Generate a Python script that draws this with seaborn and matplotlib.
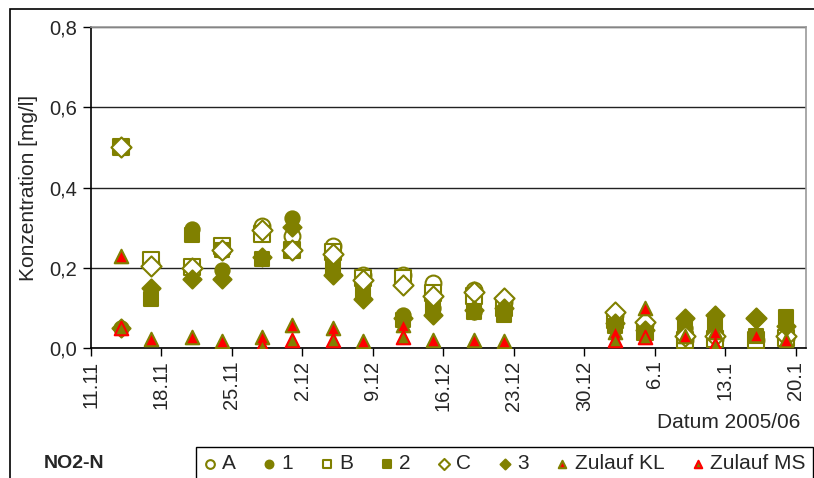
import numpy as np
import pandas as pd
import matplotlib
matplotlib.use("Agg")
import matplotlib.pyplot as plt
from matplotlib.ticker import FuncFormatter
from matplotlib.patches import Rectangle
import seaborn as sns

# -----------------------------
# Data
# -----------------------------
dates = ["2005-11-14", "2005-11-17", "2005-11-21", "2005-11-24", "2005-11-28",
         "2005-12-01", "2005-12-05", "2005-12-08", "2005-12-12", "2005-12-15",
         "2005-12-19", "2005-12-22", "2006-01-02", "2006-01-05", "2006-01-09",
         "2006-01-12", "2006-01-16", "2006-01-19"]

a_vals = [0.50, 0.21, 0.20, 0.245, 0.303, 0.278, 0.253, 0.183, 0.183, 0.162,
          0.145, 0.115, 0.083, 0.06, 0.02, 0.022, 0.02, 0.025]
s1_vals = [0.05, 0.22, 0.297, 0.195, 0.285, 0.325, 0.235, 0.165, 0.083, 0.10,
           0.09, 0.09, 0.06, 0.035, 0.05, 0.04, 0.03, 0.03]
b_vals = [0.50, 0.22, 0.203, 0.253, 0.285, 0.245, 0.24, 0.175, 0.175, 0.137,
          0.13, 0.10, 0.07, 0.04, 0.02, 0.022, 0.02, 0.025]
s2_vals = [0.50, 0.122, 0.282, 0.245, 0.222, 0.245, 0.20, 0.143, 0.07, 0.10,
           0.09, 0.083, 0.055, 0.037, 0.055, 0.057, 0.03, 0.078]
c_vals = [0.50, 0.205, 0.20, 0.245, 0.295, 0.245, 0.235, 0.17, 0.157, 0.13,
          0.14, 0.125, 0.09, 0.065, 0.03, 0.03, 0.075, 0.03]
s3_vals = [0.05, 0.15, 0.172, 0.172, 0.228, 0.302, 0.183, 0.122, 0.075, 0.083,
           0.095, 0.10, 0.062, 0.045, 0.075, 0.083, 0.075, 0.055]
kl_vals = [0.23, 0.022, 0.028, 0.018, 0.028, 0.058, 0.05, 0.018, 0.058, 0.02,
           0.02, 0.018, 0.04, 0.10, 0.03, 0.04, 0.033, 0.02]
ms_vals = [0.05, np.nan, np.nan, np.nan, 0.005, 0.02, 0.02, np.nan, 0.028, np.nan,
           np.nan, np.nan, 0.02, 0.028, np.nan, 0.007, np.nan, np.nan]

x_ticks = pd.date_range("2005-11-11", "2006-01-20", freq="7D")
y_ticks = [0.0, 0.2, 0.4, 0.6, 0.8]

olive = "#808000"
red = "#ff0000"

# series: label, values, marker, face, edge, size
series = [
    ("A", a_vals, "o", "white", olive, 130),
    ("1", s1_vals, "o", olive, olive, 105),
    ("B", b_vals, "s", "white", olive, 120),
    ("2", s2_vals, "s", olive, olive, 100),
    ("C", c_vals, "D", "white", olive, 105),
    ("3", s3_vals, "D", olive, olive, 85),
    ("Zulauf KL", kl_vals, "^", red, olive, 95),
    ("Zulauf MS", ms_vals, "^", olive, red, 95),
]

sns.set_theme(style="white")
plt.rcParams["font.family"] = ["Liberation Sans", "DejaVu Sans"]

fig = plt.figure(figsize=(8.14, 4.78), dpi=100)
ax = fig.add_axes([91 / 814, 1 - 348 / 478, (806 - 91) / 814, (348 - 27) / 478])

for label, vals, marker, face, edge, size in series:
    df = pd.DataFrame({"Datum": pd.to_datetime(dates), "Wert": vals}).dropna()
    sns.scatterplot(data=df, x="Datum", y="Wert", ax=ax, marker=marker, s=size,
                    color=face, edgecolor=edge, linewidth=1.5, label=label,
                    zorder=3)

ax.set_xlim(pd.Timestamp("2005-11-11"), pd.Timestamp("2006-01-21"))
ax.set_ylim(0, 0.8)
ax.set_xticks(x_ticks)
ax.xaxis.set_major_formatter(FuncFormatter(
    lambda v, pos: "{}.{}".format(matplotlib.dates.num2date(v).day,
                                  matplotlib.dates.num2date(v).month)))
ax.set_yticks(y_ticks)
ax.yaxis.set_major_formatter(FuncFormatter(lambda v, pos: "{:.1f}".format(v).replace(".", ",")))
ax.tick_params(axis="x", rotation=90, labelsize=14.5, length=6, width=1, direction="out",
               bottom=True, color="black", pad=3)
ax.tick_params(axis="y", labelsize=14.5, length=6, width=1, direction="out",
               left=True, color="black", pad=4)

ax.grid(axis="y", color="#222222", linewidth=1)
ax.grid(axis="x", visible=False)
for side in ["left", "bottom"]:
    ax.spines[side].set_color("black")
    ax.spines[side].set_linewidth(1.2)
for side in ["top", "right"]:
    ax.spines[side].set_color("#999999")
    ax.spines[side].set_linewidth(1.2)

ax.set_xlabel("")
ax.set_ylabel("Konzentration [mg/l]", fontsize=15, labelpad=8)

handles, labels = ax.get_legend_handles_labels()
ax.get_legend().remove()
fig.legend(handles, labels, loc="upper left", bbox_to_anchor=(196 / 814, 1 - 447 / 478),
           ncol=8, frameon=True, fancybox=False, edgecolor="black", framealpha=1,
           fontsize=15, markerscale=0.55, handlelength=0.6, handletextpad=0.3,
           columnspacing=1.3, borderpad=0.35, borderaxespad=0)

fig.text(800 / 814, 1 - 423 / 478, "Datum 2005/06", ha="right", va="center", fontsize=15)
fig.text(44 / 814, 1 - 463 / 478, "NO2-N", ha="left", va="center", fontsize=14,
         fontweight="bold")

# outer chart frame
fig.patches.append(Rectangle((10 / 814, -0.05), 1.0, 1.05 - 9 / 478,
                             transform=fig.transFigure, fill=False,
                             edgecolor="black", linewidth=1.2, zorder=0))

fig.savefig("out.png", dpi=100)
